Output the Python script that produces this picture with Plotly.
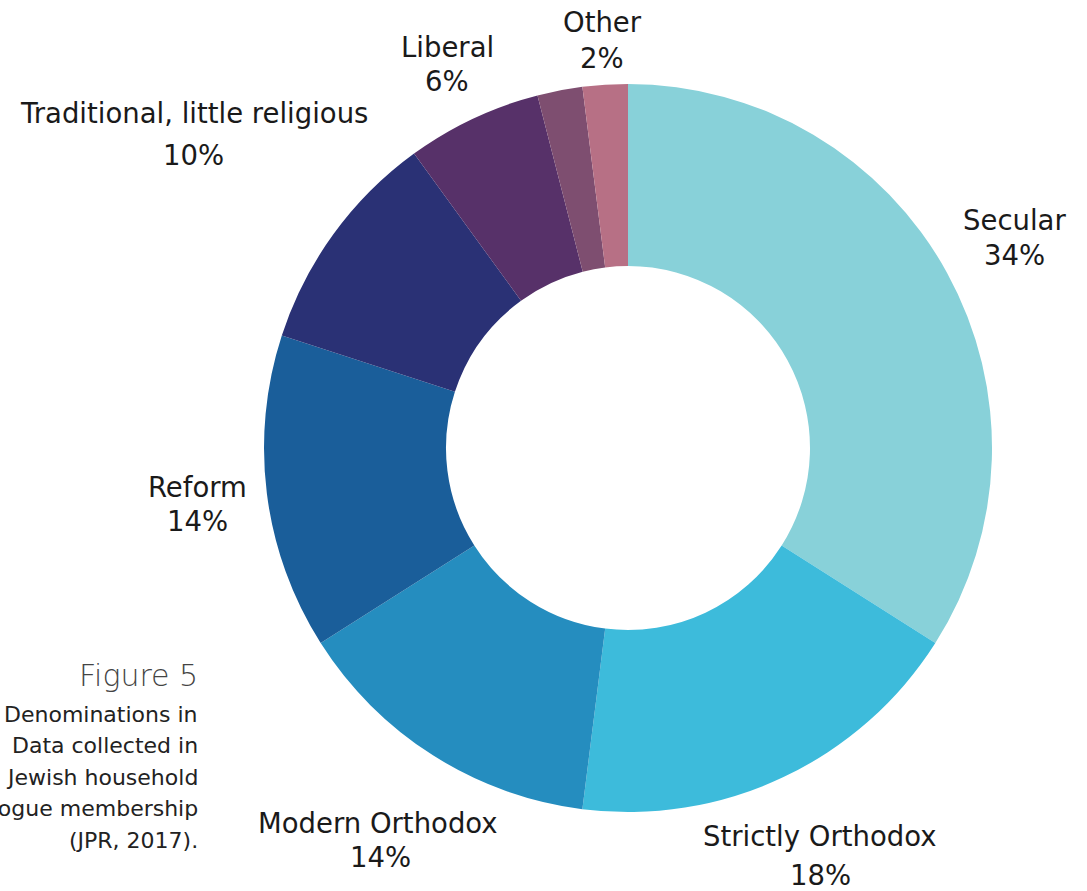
import plotly.graph_objects as go

W, H = 1087, 891

categories = ["Secular", "Strictly Orthodox", "Modern Orthodox", "Reform",
              "Traditional, little religious", "Liberal", "Unlabelled", "Other"]
values = [34, 18, 14, 14, 10, 6, 2, 2]
pct_labels = ["34%", "18%", "14%", "14%", "10%", "6%", "", "2%"]
colors = ["#88D1D9", "#3DBBDB", "#258DBF", "#1A5E9A",
          "#2A3175", "#573169", "#7E4E70", "#B77085"]

# label placement (pixel centres of name line and percent line)
label_pos = {
    "Secular": ((1014, 220), (1014, 255)),
    "Strictly Orthodox": ((819, 836), (820, 875)),
    "Modern Orthodox": ((378, 823), (380, 857)),
    "Reform": ((197, 487), (197, 521)),
    "Traditional, little religious": ((194, 113), (193, 155)),
    "Liberal": ((447, 47), (447, 81)),
    "Other": ((602, 22), (602, 58)),
}

caption_title = "Figure 5"
caption_lines = ["Denominations in", "Data collected in", "Jewish household",
                 "synagogue membership", "(JPR, 2017)."]

FONT = "DejaVu Sans"

cx, cy, R = 628, 448, 364
fig = go.Figure(go.Pie(
    labels=categories, values=values, sort=False, direction="clockwise",
    rotation=0, hole=0.5, textinfo="none", hoverinfo="label+percent",
    marker=dict(colors=colors, line=dict(width=0)),
    domain=dict(x=[(cx - R) / W, (cx + R) / W],
                y=[(H - cy - R) / H, (H - cy + R) / H]),
    showlegend=False,
))

def px(x, y):
    return x / W, 1 - y / H

anns = []
for name, pct in zip(categories, pct_labels):
    if name not in label_pos:
        continue
    (x1, y1), (x2, y2) = label_pos[name]
    for (x, y), t in (((x1, y1), name), ((x2, y2), pct)):
        ax_, ay_ = px(x, y)
        anns.append(dict(x=ax_, y=ay_, xref="paper", yref="paper", text=t,
                         showarrow=False, xanchor="center", yanchor="middle",
                         font=dict(family=FONT, size=27.5, color="#1a1a1a")))

tx, ty = px(200, 675)
anns.append(dict(x=tx, y=ty, xref="paper", yref="paper", text=caption_title,
                 showarrow=False, xanchor="right", yanchor="middle",
                 font=dict(family=FONT, size=30, color="#444444", weight=200)))
for i, line in enumerate(caption_lines):
    lx, ly = px(200, 714 + 31.5 * i)
    anns.append(dict(x=lx, y=ly, xref="paper", yref="paper", text=line,
                     showarrow=False, xanchor="right", yanchor="middle",
                     font=dict(family=FONT, size=22, color="#222222")))

fig.update_layout(width=W, height=H, margin=dict(l=0, r=0, t=0, b=0),
                  paper_bgcolor="white", plot_bgcolor="white",
                  annotations=anns)

fig.write_html("out.html")
